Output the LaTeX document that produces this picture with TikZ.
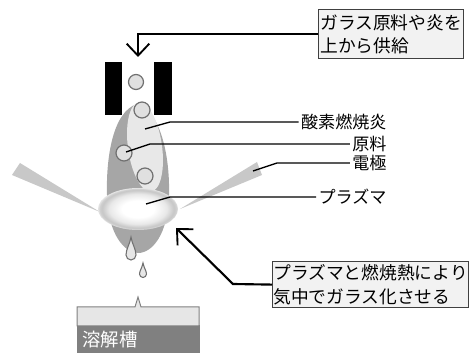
\documentclass[tikz,border=0pt]{standalone}
\usepackage{fontspec}
\newfontfamily\jp{Noto Sans CJK JP}
\usetikzlibrary{arrows.meta}

\definecolor{boxfill}{RGB}{242,242,242}
\definecolor{boxrim}{RGB}{64,64,64}
\definecolor{flameout}{RGB}{166,166,166}
\definecolor{flamein}{RGB}{232,232,232}
\definecolor{graingray}{RGB}{224,224,224}
\definecolor{rimgray}{RGB}{112,112,112}
\definecolor{rodgray}{RGB}{200,200,200}
\definecolor{tanktop}{RGB}{230,230,230}
\definecolor{tankbody}{RGB}{128,128,128}

% 25bp is the rim of the shaded path
\pgfdeclareradialshading{plasmaglow}{\pgfpoint{0bp}{0bp}}{%
  color(0bp)=(white); color(10bp)=(white); color(18bp)=(black!9);
  color(22.5bp)=(black!22); color(24bp)=(black!18); color(25bp)=(black!10);
  color(50bp)=(black!10)}

\tikzset{every picture/.style={line width=0.75pt}}
\tikzset{
  callout/.style={draw=boxrim, fill=boxfill, line width=0.9pt, align=left,
    inner xsep=0.6pt, inner ysep=1.5pt, anchor=north west, font=\jp\fontsize{13.3}{17.5}\selectfont},
  tag/.style={anchor=east, inner sep=1.5pt, font=\jp\fontsize{12.8}{15}\selectfont},
  leader/.style={line width=1pt},
  feed/.style={line width=1.6pt, -{Straight Barb[length=9pt,width=17pt,line width=1.4pt]}},
  grain/.style={fill=graingray, draw=rimgray, line width=0.9pt},
  drop/.style={fill=tanktop, draw=rimgray, line width=0.8pt},
}

\begin{document}
\begin{tikzpicture}[x=0.75pt,y=0.75pt,yscale=-1,xscale=1]
\useasboundingbox (0,0) rectangle (469,353);

%Shape: electrode rods
\fill [rodgray] (12,175) -- (20,163) -- (100,212) -- cycle ;
\fill [rodgray] (257,162) -- (262,175) -- (180,209) -- cycle ;

%Shape: outer flame
\fill [flameout] (137,104) .. controls (112,112) and (106,160) .. (107,195) .. controls (108,235) and (125,253) .. (138,253) .. controls (152,253) and (168,235) .. (169,195) .. controls (170,160) and (162,112) .. (137,104) -- cycle ;
%Shape: inner flame
\fill [flamein, rotate around={-8:(145,147)}] (145,147) ellipse [x radius=17, y radius=45] ;

%Shape: burner blocks
\fill [black] (105,62) rectangle (122,115) ;
\fill [black] (154,62) rectangle (172,115) ;

%Shape: raw material grains
\draw [grain] (136,82) circle [radius=7.5] ;
\draw [grain] (142,110) circle [radius=8] ;
\draw [grain] (124,153) circle [radius=8] ;
\draw [grain] (145,176) circle [radius=8] ;

%Shape: plasma
\shade [shading=plasmaglow] (138,209) ellipse [x radius=40, y radius=21] ;

%Shape: droplets
\draw [drop] (131,237) .. controls (132,244) and (136,249) .. (136,255) arc [start angle=0, end angle=180, radius=5] .. controls (126,249) and (130,244) .. (131,237) -- cycle ;
\draw [drop] (143,263) .. controls (144,268) and (146.5,271) .. (146.5,274) arc [start angle=0, end angle=180, radius=3.5] .. controls (139.5,271) and (142,268) .. (143,263) -- cycle ;

%Shape: melting tank
\draw [fill=tankbody, draw=tankbody] (77,326) rectangle (199,356) ;
\draw [fill=tanktop, draw=tankbody] (77,326) -- (77,307) -- (135,307) -- (138,297) -- (141,307) -- (199,307) -- (199,326) -- cycle ;

% Text Node
\node [text=white, anchor=west, inner sep=1.5pt, font=\jp\fontsize{13.8}{16}\selectfont] (tank) at (80,340) {溶解槽};
% Text Node
\node [callout, minimum width=108.75pt, minimum height=36.75pt] (supply) at (318,9) {ガラス原料や炎を\\上から供給};
% Text Node
\node [callout, minimum width=143.25pt, minimum height=34.5pt] (vitrify) at (272,261) {プラズマと燃焼熱により\\気中でガラス化させる};
% Text Node
\node [tag] (flame) at (389,122) {酸素燃焼炎};
% Text Node
\node [tag] (raw) at (389,144) {原料};
% Text Node
\node [tag] (electrode) at (389,163) {電極};
% Text Node
\node [tag] (plasma) at (389,197) {プラズマ};

%Straight Lines: leaders
\coordinate (flameP) at (145,129) ;
\coordinate (flameB) at (170,122) ;
\coordinate (rawP) at (126,152) ;
\coordinate (rawB) at (150,144) ;
\coordinate (electrodeP) at (253,171) ;
\coordinate (electrodeB) at (277,163) ;
\coordinate (plasmaP) at (146,204) ;
\coordinate (plasmaB) at (170,197) ;
\draw [leader] (flameP) -- (flameB) -- (flame.west) ;
\draw [leader] (rawP) -- (rawB) -- (raw.west) ;
\draw [leader] (electrodeP) -- (electrodeB) -- (electrode.west) ;
\draw [leader] (plasmaP) -- (plasmaB) -- (plasma.west) ;

%Straight Lines: arrows
\coordinate (inlet) at (138,57) ;
\coordinate (bend) at (233,284) ;
\coordinate (target) at (176,228) ;
\draw [feed] (supply.west) -| (inlet) ;
\draw [feed] (vitrify.west) -- (bend) -- (target) ;

\end{tikzpicture}
\end{document}
